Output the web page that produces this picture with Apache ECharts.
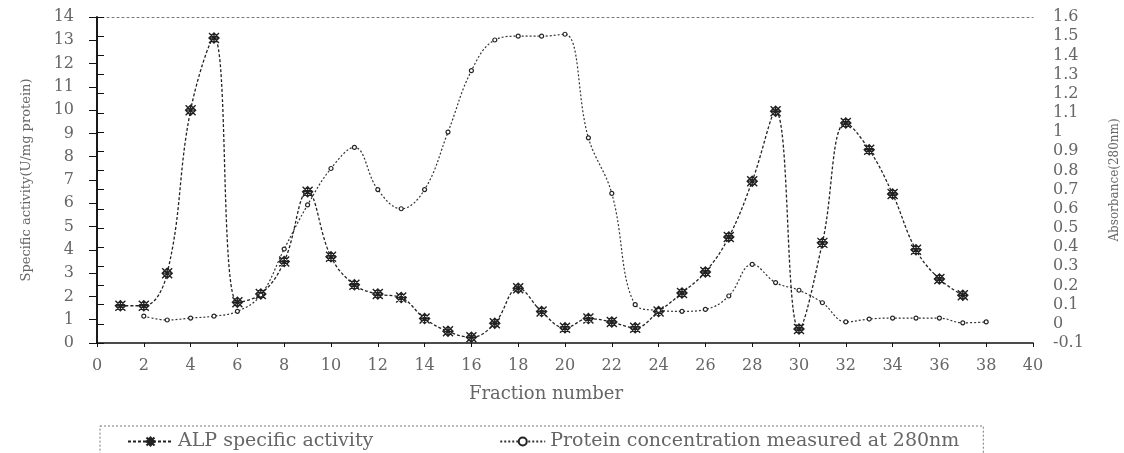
<!DOCTYPE html>
<html>
<head>
<meta charset="utf-8">
<script src="https://cdn.jsdelivr.net/npm/echarts@6/dist/echarts.min.js"></script>
<style>
html,body{margin:0;padding:0;background:#fff;}
#chart{width:1124px;height:453px;}
</style>
</head>
<body>
<div id="chart"></div>
<script>
// ---- data ----
const alpFractions = [1,2,3,4,5,6,7,8,9,10,11,12,13,14,15,16,17,18,19,20,21,22,23,24,25,26,27,28,29,30,31,32,33,34,35,36,37];
const alpActivity = [1.6,1.6,3.0,10.0,13.1,1.75,2.1,3.5,6.5,3.7,2.5,2.1,1.95,1.05,0.5,0.25,0.85,2.35,1.35,0.65,1.05,0.9,0.65,1.35,2.15,3.05,4.55,6.95,9.95,0.6,4.3,9.45,8.3,6.4,4.0,2.75,2.05];
const proteinFractions = [2,3,4,5,6,7,8,9,10,11,12,13,14,15,16,17,18,19,20,21,22,23,24,25,26,27,28,29,30,31,32,33,34,35,36,37,38];
const proteinA280 = [0.04,0.02,0.03,0.04,0.065,0.15,0.39,0.62,0.81,0.92,0.70,0.60,0.70,1.00,1.32,1.48,1.50,1.50,1.51,0.97,0.68,0.10,0.07,0.065,0.075,0.145,0.31,0.215,0.175,0.11,0.01,0.025,0.03,0.03,0.03,0.005,0.01];
const xTicks = {min: 0, max: 40, interval: 2};
const leftTicks = {min: 0, max: 14, interval: 1};
const rightTicks = {min: -0.1, max: 1.6, interval: 0.1};
const seriesNames = ['ALP specific activity', 'Protein concentration measured at 280nm'];
const axisTitles = {x: 'Fraction number', left: 'Specific activity(U/mg protein)', right: 'Absorbance(280nm)'};

const FONT = 'DejaVu Serif';
const TXT = '#666';
const chart = echarts.init(document.getElementById('chart'), null, {renderer: 'canvas'});

const alpData = alpFractions.map((f, i) => [f, alpActivity[i]]);
const protData = proteinFractions.map((f, i) => [f, proteinA280[i]]);

const asterisk = 'path://M5,0L10,5L5,10L0,5Z M0,0L10,10 M10,0L0,10 M5,0L5,10 M0,5L10,5';

chart.setOption({
  backgroundColor: '#fff',
  animation: false,
  grid: {left: 97, right: 91, top: 17, bottom: 110, containLabel: false, outerBoundsMode: 'none'},
  legend: {
    left: 100, top: 426,
    padding: [6, 24, 20, 27],
    itemGap: 126,
    itemWidth: 45, itemHeight: 10,
    borderColor: '#777', borderWidth: 1, borderType: [2, 2],
    textStyle: {fontFamily: FONT, fontSize: 19, color: TXT},
    data: seriesNames
  },
  xAxis: [{
    type: 'value', min: xTicks.min, max: xTicks.max, interval: xTicks.interval,
    position: 'bottom',
    name: axisTitles.x, nameLocation: 'middle', nameGap: 42,
    nameTextStyle: {fontFamily: FONT, fontSize: 18, color: TXT, padding: [0, 38, 0, 0]},
    axisLine: {show: true, onZero: false, lineStyle: {color: '#111', width: 1.6}},
    axisTick: {show: true, length: 4, lineStyle: {color: '#111'}},
    axisLabel: {margin: 15, fontFamily: FONT, fontSize: 16, color: TXT},
    splitLine: {show: false}
  }, {
    type: 'value', min: xTicks.min, max: xTicks.max, position: 'top',
    axisLine: {show: true, onZero: false, lineStyle: {color: '#777', width: 1, type: [2, 3]}},
    axisTick: {show: false}, axisLabel: {show: false}, splitLine: {show: false}
  }],
  yAxis: [{
    type: 'value', min: leftTicks.min, max: leftTicks.max, interval: leftTicks.interval,
    position: 'left',
    name: axisTitles.left, nameLocation: 'middle', nameGap: 64, nameRotate: 90,
    nameTextStyle: {fontFamily: FONT, fontSize: 13, color: TXT},
    axisLine: {show: true, lineStyle: {color: '#111', width: 1.6}},
    axisTick: {show: true, length: 8, lineStyle: {color: '#111'}},
    axisLabel: {margin: 23, fontFamily: FONT, fontSize: 16, color: TXT},
    splitLine: {show: false}
  }, {
    type: 'value', min: rightTicks.min, max: rightTicks.max, interval: rightTicks.interval,
    position: 'right',
    name: axisTitles.right, nameLocation: 'middle', nameGap: 76, nameRotate: 90,
    nameTextStyle: {fontFamily: FONT, fontSize: 12, color: TXT},
    axisLine: {show: true, lineStyle: {color: '#111', width: 1.6}},
    axisTick: {show: true, length: 7, lineStyle: {color: '#111'}},
    axisLabel: {margin: 20, fontFamily: FONT, fontSize: 16, color: TXT,
      formatter: v => String(+v.toFixed(1))},
    splitLine: {show: false}
  }],
  series: [{
    name: seriesNames[0], type: 'line', xAxisIndex: 0, yAxisIndex: 0,
    data: alpData, smooth: 0.4,
    symbol: asterisk, symbolSize: 10,
    lineStyle: {color: '#222', width: 1.3, type: [3, 2]},
    itemStyle: {color: '#fff', borderColor: '#222', borderWidth: 1.4}
  }, {
    name: seriesNames[1], type: 'line', xAxisIndex: 0, yAxisIndex: 1,
    data: protData, smooth: 0.4,
    symbol: 'circle', symbolSize: 4,
    lineStyle: {color: '#333', width: 1.2, type: [2, 2]},
    itemStyle: {color: '#fff', borderColor: '#222', borderWidth: 1.2}
  }]
});
</script>
</body>
</html>
